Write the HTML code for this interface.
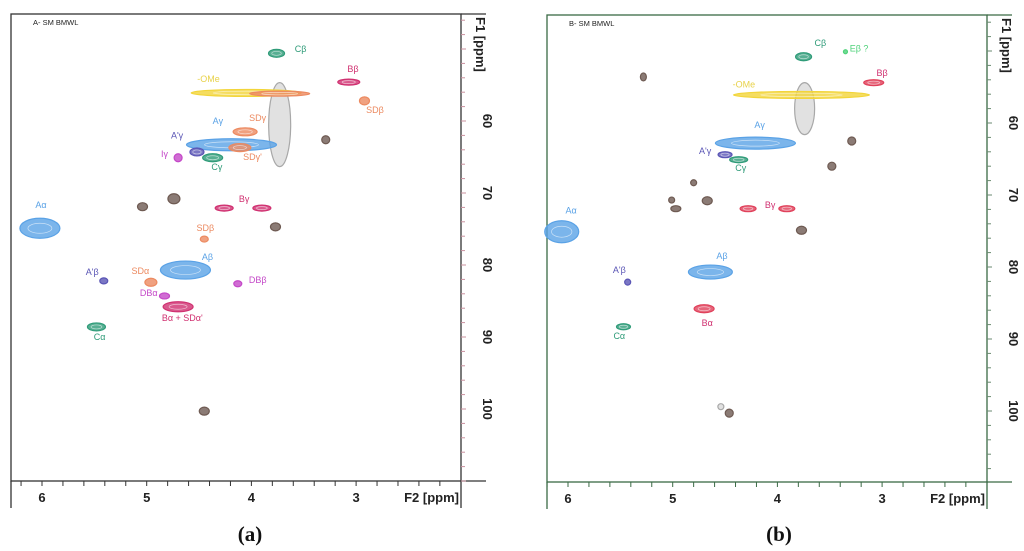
<!DOCTYPE html>
<html><head><meta charset="utf-8">
<style>
html,body{margin:0;padding:0;background:#fff;}
svg{display:block;font-family:"Liberation Sans",sans-serif;}
</style></head>
<body>
<svg id="fig" width="1024" height="551" viewBox="0 0 1024 551"></svg>
<script>
// ---------- Panel A data (ppm) ----------
const peaksA_x  = [3.73,3.76,3.07,4.05,2.92,4.19,4.06,4.11,4.52,4.70,4.37,3.29,5.04,4.74,3.77,4.26,3.90,6.02,4.45,4.63,5.41,4.96,4.13,4.83,4.70,5.48,4.45,3.73];
const peaksA_y  = [60.5,50.6,54.6,56.1,57.2,63.3,61.5,63.7,64.3,65.1,65.1,62.6,71.9,70.8,74.7,72.1,72.1,74.9,76.4,80.7,82.2,82.4,82.6,84.3,85.8,88.6,100.3,56.2];
const peaksA_rx = [11,8,11,55,5,45,12,11,7,4,10,4,5,6,5,9,9,20,4,25,4,6,4,5,15,9,5,30];
const peaksA_ry = [42,4,3,3.5,4,6,4,4,4,4,4,4,4,5,4,3,3,10,3,9,3,4,3,3,5,4,4,2.5];
const peaksA_c  = ["gray","green","pink","yellow","orange","blue","orange","orange","purple","magenta","green","brown","brown","brown","brown","pink","pink","blue","orange","blue","purple","orange","magenta","magenta","pink","green","brown","orange"];
const labelsA_t = ["Cβ","Bβ","-OMe","SDβ","Aγ","SDγ","A'γ","Iγ","Cγ","SDγ'","Aα","Bγ","SDβ","Aβ","A'β","SDα","DBβ","DBα","Bα + SDα'","Cα"];
const labelsA_x = [3.53,3.03,4.41,2.82,4.32,3.94,4.71,4.83,4.33,3.99,6.01,4.07,4.44,4.42,5.52,5.06,3.94,4.98,4.66,5.45];
const labelsA_y = [50.4,53.2,54.6,58.9,60.4,60.0,62.4,65.0,66.8,65.4,72.1,71.25,75.3,79.3,81.4,81.25,82.5,84.3,87.8,90.4];
const labelsA_c = ["green","pink","yellowt","orange","blue","orange","purple","magenta","green","orange","blue","pink","orange","blue","purple","orange","magenta","magenta","pink","green"];
// ---------- Panel B data (ppm) ----------
const peaksB_x  = [3.74,3.75,3.35,3.08,3.77,5.28,4.21,4.50,4.37,3.29,3.48,4.80,5.01,4.67,4.97,3.77,4.28,3.91,6.06,4.64,5.43,4.70,5.47,4.46,4.54];
const peaksB_y  = [58.0,50.8,50.1,54.4,56.1,53.6,62.8,64.4,65.1,62.5,66.0,68.3,70.7,70.8,71.9,74.9,71.9,71.9,75.1,80.7,82.1,85.8,88.3,100.3,99.4];
const peaksB_rx = [10,8,2,10,68,3,40,7,9,4,4,3,3,5,5,5,8,8,17,22,3,10,7,4,3];
const peaksB_ry = [26,4,2,3,3.5,4,6,3,3,4,4,3,3,4,3,4,3,3,11,7,3,4,3,4,3];
const peaksB_c  = ["gray","green","lgreen","red","yellow","brown","blue","purple","green","brown","brown","brown","brown","brown","brown","brown","red","red","blue","blue","purple","red","green","brown","gray"];
const labelsB_t = ["Cβ","Eβ ?","Bβ","-OMe","Aγ","A'γ","Cγ","Aα","Bγ","Aβ","A'β","Bα","Cα"];
const labelsB_x = [3.59,3.22,3.00,4.32,4.17,4.69,4.35,5.97,4.07,4.53,5.51,4.67,5.51];
const labelsB_y = [49.3,50.1,53.5,55.1,60.7,64.3,66.7,72.6,71.8,78.9,80.8,88.2,90.0];
const labelsB_c = ["green","lgreen","pink","yellowt","blue","purple","green","blue","pink","blue","purple","pink","green"];
const xTicks = [6,5,4,3];
const yTicks = [60,70,80,90,100];

const COL = {green:"#2e9b78",lgreen:"#4fd27a",pink:"#d03070",red:"#e0405a",orange:"#ec8a60",yellow:"#f2d53a",yellowt:"#e8d24a",gray:"#a8a8a8",blue:"#5aa2e6",purple:"#5a55b5",magenta:"#c448c8",brown:"#6e5a52"};
const NS="http://www.w3.org/2000/svg";
const svg=document.getElementById('fig');
function mk(tag,attrs,parent){const e=document.createElementNS(NS,tag);for(const k in attrs)e.setAttribute(k,attrs[k]);(parent||svg).appendChild(e);return e;}

function drawPanel(P){
  const g=mk('g',{});
  
  
  const sx=v=>P.x6+(6-v)*P.kx;
  const sy=v=>P.y60+(v-60)*P.ky;
  const fr=mk('rect',{x:P.L,y:P.T,width:P.R-P.L,height:P.B-P.T,fill:"#fff",stroke:P.axis,"stroke-width":1.3},g);
  
  
  mk('line',{x1:P.L,y1:P.B,x2:P.L,y2:P.B+27,stroke:P.axis,"stroke-width":1.3},g);
  mk('line',{x1:P.R,y1:P.B,x2:P.R,y2:P.B+27,stroke:P.axis,"stroke-width":1.3},g);
  mk('line',{x1:P.R,y1:P.B,x2:P.R+25,y2:P.B,stroke:P.axis,"stroke-width":1.3},g);
  mk('line',{x1:P.R,y1:P.T,x2:P.R+25,y2:P.T,stroke:P.axis,"stroke-width":1.3},g);
  for(let v=6.2;v>=2.0;v-=0.2){const x=sx(v);if(x<P.L||x>P.R)continue;
    mk('line',{x1:x,y1:P.B,x2:x,y2:P.B+5,stroke:P.axis,"stroke-width":1},g);}
  xTicks.forEach(v=>{const t=mk('text',{x:sx(v),y:P.B+21,"font-size":13,"font-weight":"bold","text-anchor":"middle",fill:"#222"},g);t.textContent=v;
    });
  const xt=mk('text',{x:P.R-2,y:P.B+21,"font-size":13,"font-weight":"bold","text-anchor":"end",fill:"#222"},g);xt.textContent="F2 [ppm]";
  
  for(let v=46;v<=110;v+=2){const y=sy(v);if(y<P.T||y>P.B)continue;
    mk('line',{x1:P.R,y1:y,x2:P.R+(v%10==0?5:4),y2:y,stroke:P.ytick,"stroke-width":1},g);}
  yTicks.forEach(v=>{const y=sy(v);const t=mk('text',{x:0,y:0,"font-size":13,"font-weight":"bold","text-anchor":"middle",fill:"#222",transform:`translate(${P.R+22},${y}) rotate(90)`},g);t.textContent=v;
    });
  const yt=mk('text',{x:0,y:0,"font-size":13,"font-weight":"bold","text-anchor":"start",fill:"#222",transform:`translate(${P.R+15},${P.T+3}) rotate(90)`},g);yt.textContent="F1 [ppm]";
  
  const ti=mk('text',{x:P.L+22,y:P.T+11,"font-size":7.5,fill:"#222"},g);ti.textContent=P.title;
  
  P.px.forEach((v,i)=>{
    const c=COL[P.pc[i]];
    const gray=P.pc[i]==="gray";
    const e=mk('ellipse',{cx:sx(v),cy:sy(P.py[i]),rx:P.prx[i],ry:P.pry[i],fill:c,"fill-opacity":gray?0.35:0.8,stroke:c,"stroke-width":1.2},g);
    
    
    if(P.prx[i]>6 && !gray){mk('ellipse',{cx:sx(v),cy:sy(P.py[i]),rx:P.prx[i]*0.6,ry:P.pry[i]*0.5,fill:"none",stroke:"#fff","stroke-width":0.7,"stroke-opacity":0.6},g);}
  });
  P.lt.forEach((s,i)=>{
    const t=mk('text',{x:sx(P.lx[i]),y:sy(P.ly[i]),"font-size":9,"text-anchor":"middle",fill:COL[P.lc[i]]},g);
    t.textContent=s;
    
    
  });
  const cap=mk('text',{x:P.capX,y:541,"font-size":21,"font-weight":"bold","text-anchor":"middle",fill:"#111","font-family":"Liberation Serif,serif"},g);
  cap.textContent=P.cap;
  
  
}
drawPanel({name:"panel-a",L:11,R:461,T:14,B:481,x6:42,kx:104.7,y60:121,ky:7.2,axis:"#333",ytick:"#c9909e",title:"A- SM BMWL",cap:"(a)",capX:250,
  px:peaksA_x,py:peaksA_y,prx:peaksA_rx,pry:peaksA_ry,pc:peaksA_c,lt:labelsA_t,lx:labelsA_x,ly:labelsA_y,lc:labelsA_c});
drawPanel({name:"panel-b",L:547,R:987,T:15,B:482,x6:568,kx:104.7,y60:123,ky:7.2,axis:"#3a6a45",ytick:"#6a8a70",title:"B- SM BMWL",cap:"(b)",capX:779,
  px:peaksB_x,py:peaksB_y,prx:peaksB_rx,pry:peaksB_ry,pc:peaksB_c,lt:labelsB_t,lx:labelsB_x,ly:labelsB_y,lc:labelsB_c});
</script>
</body></html>
